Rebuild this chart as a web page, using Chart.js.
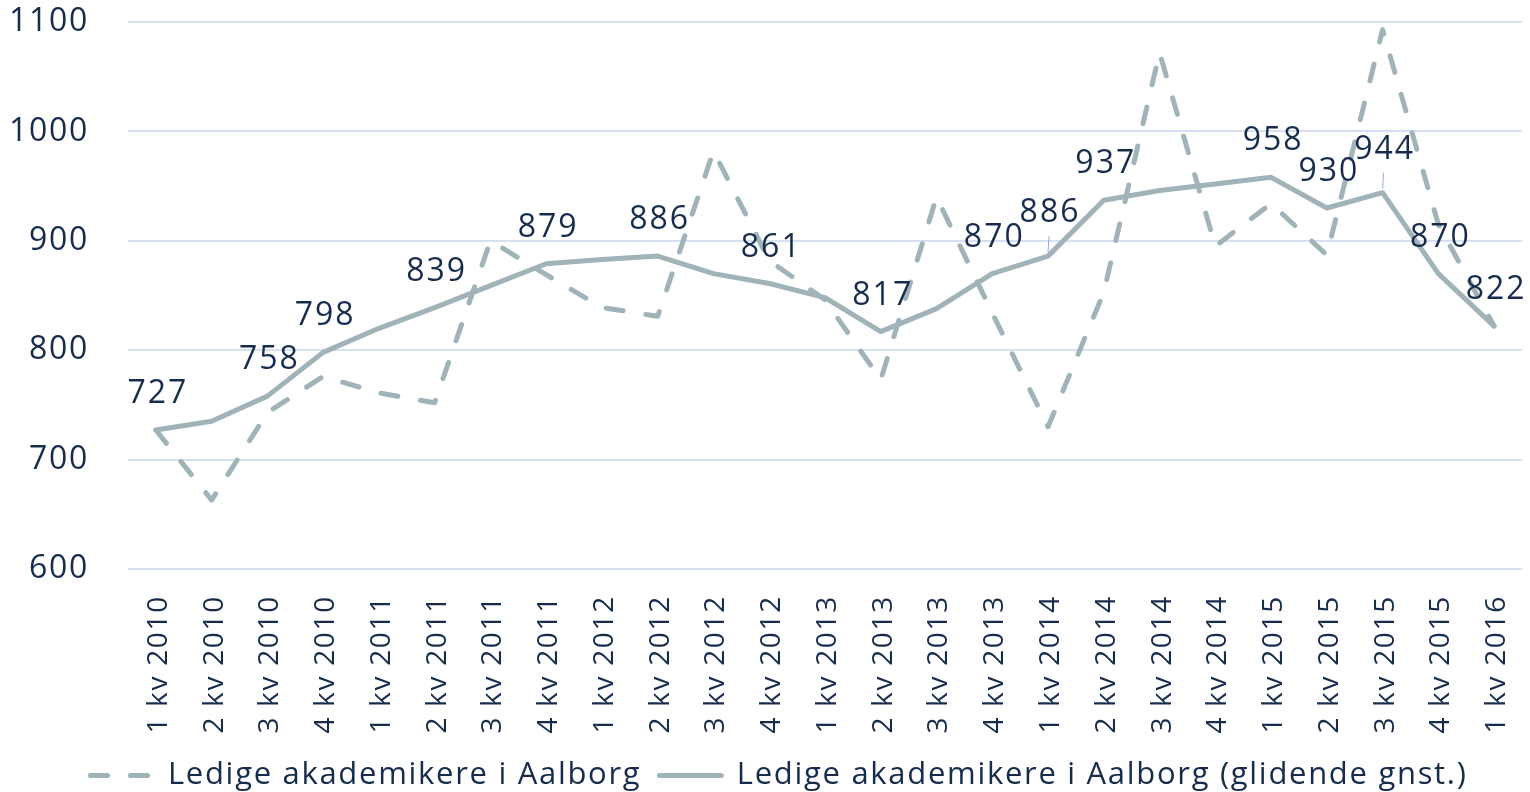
<!DOCTYPE html>
<html>
<head>
<meta charset="utf-8">
<script src="https://cdn.jsdelivr.net/npm/chart.js@4/dist/chart.umd.min.js"></script>
<style>
html,body{margin:0;padding:0;background:#fff;}
#wrap{width:1530px;height:792px;position:relative;}
</style>
</head>
<body>
<div id="wrap"><canvas id="c" width="1530" height="792"></canvas></div>
<script>
const categories = ["1 kv 2010","2 kv 2010","3 kv 2010","4 kv 2010","1 kv 2011","2 kv 2011","3 kv 2011","4 kv 2011","1 kv 2012","2 kv 2012","3 kv 2012","4 kv 2012","1 kv 2013","2 kv 2013","3 kv 2013","4 kv 2013","1 kv 2014","2 kv 2014","3 kv 2014","4 kv 2014","1 kv 2015","2 kv 2015","3 kv 2015","4 kv 2015","1 kv 2016"];
const rawValues = [727, 663, 743, 776, 761, 752, 900, 869, 839, 831, 982, 882, 846, 773, 940, 834, 730, 853, 1072, 895, 934, 887, 1093, 915, 822];
const avgValues = [727, 735, 758, 798, 820, 839, 859, 879, 883, 886, 870, 861, 848, 817, 838, 870, 886, 937, 946, 952, 958, 930, 944, 870, 822];
const labelledIdx = [0, 2, 3, 5, 7, 9, 11, 13, 15, 16, 17, 20, 21, 22, 23, 24];
const leaderIdx = [16, 22];
const yTicks = [600, 700, 800, 900, 1000, 1100];
const seriesNames = ["Ledige akademikere i Aalborg", "Ledige akademikere i Aalborg (glidende gnst.)"];

const FONT = "'Open Sans', sans-serif";
const NAVY = '#172C4C';
const LINE = '#A0B3B8';
const GRID = '#D6E0F2';
const PAD_B = -9;
const LEGEND_SHIFT = 18;
const SPACING = '1.7px';

const spacingPlugin = {
  id: 'spacing',
  beforeUpdate(chart) { chart.ctx.letterSpacing = SPACING; },
  afterLayout(chart) {
    if (chart.legend) {
      chart.legend.left += LEGEND_SHIFT;
      chart.legend.right += LEGEND_SHIFT;
    }
  },
  beforeDraw(chart) { chart.ctx.letterSpacing = SPACING; }
};

const labelPlugin = {
  id: 'dataLabels',
  afterDatasetsDraw(chart) {
    const ctx = chart.ctx;
    const meta = chart.getDatasetMeta(1);
    ctx.save();
    ctx.letterSpacing = '2px';
    ctx.font = "32px " + FONT;
    ctx.fillStyle = NAVY;
    ctx.textAlign = 'center';
    ctx.textBaseline = 'middle';
    labelledIdx.forEach(i => {
      const pt = meta.data[i];
      const lead = leaderIdx.includes(i);
      const dy = lead ? 43 : 36;
      if (lead) {
        ctx.save();
        ctx.strokeStyle = '#8FAADC';
        ctx.lineWidth = 1;
        ctx.setLineDash([]);
        ctx.beginPath();
        ctx.moveTo(pt.x + 1, pt.y - 20);
        ctx.lineTo(pt.x, pt.y - 4);
        ctx.stroke();
        ctx.restore();
      }
      ctx.fillText(String(avgValues[i]), pt.x + 2, pt.y - dy);
    });
    ctx.restore();
  }
};

new Chart(document.getElementById('c'), {
  type: 'line',
  data: {
    labels: categories,
    datasets: [
      {
        label: seriesNames[0],
        data: rawValues,
        borderColor: LINE,
        backgroundColor: LINE,
        borderWidth: 5,
        borderDash: [17, 23],
        borderCapStyle: 'round',
        borderJoinStyle: 'round',
        pointRadius: 0,
        tension: 0,
        fill: false
      },
      {
        label: seriesNames[1],
        data: avgValues,
        borderColor: LINE,
        backgroundColor: LINE,
        borderWidth: 5,
        borderCapStyle: 'round',
        borderJoinStyle: 'round',
        pointRadius: 0,
        tension: 0,
        fill: false
      }
    ]
  },
  options: {
    responsive: false,
    animation: false,
    layout: { padding: { left: 0, right: 8, top: 22, bottom: PAD_B } },
    plugins: {
      legend: {
        position: 'bottom',
        labels: {
          font: { family: FONT, size: 31 },
          color: NAVY,
          usePointStyle: true,
          pointStyle: 'line',
          pointStyleWidth: 62,
          boxHeight: 10,
          padding: 18,
          generateLabels(chart) {
            const items = Chart.defaults.plugins.legend.labels.generateLabels(chart);
            items.forEach(it => {
              const ds = chart.data.datasets[it.datasetIndex];
              it.lineDash = ds.borderDash || [];
              it.lineCap = 'round';
              it.lineWidth = 5;
              it.strokeStyle = LINE;
            });
            return items;
          }
        }
      },
      tooltip: { enabled: false }
    },
    scales: {
      x: {
        offset: true,
        grid: { display: false, drawTicks: false },
        border: { display: false },
        ticks: {
          autoSkip: false,
          maxRotation: 90,
          minRotation: 90,
          padding: 26,
          labelOffset: 3,
          color: NAVY,
          font: { family: FONT, size: 28 }
        },
        afterFit(scale) {
          const lh = scale.chart.legend ? scale.chart.legend.height : 50;
          scale.height = 792 - PAD_B - 569 - lh;
          scale.paddingLeft = 0;
          scale.paddingRight = 0;
        }
      },
      y: {
        min: 600,
        max: 1100,
        afterBuildTicks(scale) { scale.ticks = yTicks.map(v => ({ value: v })); },
        grid: { color: GRID, lineWidth: 2, drawTicks: false },
        border: { display: false },
        ticks: {
          padding: 39,
          color: NAVY,
          font: { family: FONT, size: 32 },
          callback: (v) => String(v)
        },
        afterFit(scale) {
          scale.width = 128;
          scale.paddingTop = 0;
          scale.paddingBottom = 0;
        }
      }
    }
  },
  plugins: [spacingPlugin, labelPlugin]
});
</script>
</body>
</html>
